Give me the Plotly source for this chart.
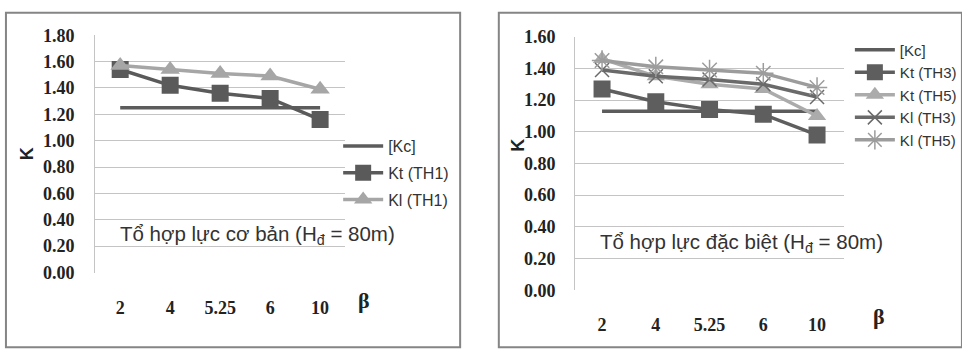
import plotly.graph_objects as go

W, H = 962, 360
def px(x): return x / W
def py(y): return 1 - y / H

categories = ["2", "4", "5.25", "6", "10"]

# Left panel: basic load combination
kc_left = [1.25, 1.25, 1.25, 1.25, 1.25]
kt_th1 = [1.54, 1.42, 1.36, 1.32, 1.16]
kl_th1 = [1.57, 1.54, 1.51, 1.49, 1.39]

# Right panel: special load combination
kc_right = [1.13, 1.13, 1.13, 1.13, 1.13]
kt_th3 = [1.27, 1.19, 1.14, 1.11, 0.98]
kt_th5 = [1.46, 1.35, 1.30, 1.27, 1.10]
kl_th3 = [1.39, 1.35, 1.33, 1.30, 1.22]
kl_th5 = [1.45, 1.41, 1.39, 1.37, 1.28]

left_ticks = [0.0, 0.2, 0.4, 0.6, 0.8, 1.0, 1.2, 1.4, 1.6, 1.8]
right_ticks = [0.0, 0.2, 0.4, 0.6, 0.8, 1.0, 1.2, 1.4, 1.6]

DARK = "#5a5a5a"
LIGHT = "#a6a6a6"
KC = "#5c5c5c"

fig = go.Figure()

def add(y, name, xa, ya, legend, color, symbol=None, msize=15, lw=3.5, mline=None, grp=None):
    mode = "lines" if symbol is None else "lines+markers"
    marker = None
    if symbol is not None:
        marker = dict(symbol=symbol, size=msize, color=color)
        if mline:
            marker["line"] = dict(color=color, width=mline)
    fig.add_trace(go.Scatter(x=categories, y=y, name=name, mode=mode,
                             line=dict(color=color, width=lw), marker=marker,
                             xaxis=xa, yaxis=ya, legend=legend, legendgroup=grp or name))

add(kc_left, "[Kc]", "x", "y", "legend", KC)
add(kt_th1, "Kt (TH1)", "x", "y", "legend", DARK, "square", 17)
add(kl_th1, "Kl (TH1)", "x", "y", "legend", LIGHT, "triangle-up", 17)

add(kc_right, "[Kc]", "x2", "y2", "legend2", KC, grp="r0")
add(kt_th3, "Kt (TH3)", "x2", "y2", "legend2", "#5e5e5e", "square", 17, grp="r1")
add(kt_th5, "Kt (TH5)", "x2", "y2", "legend2", "#ababab", "triangle-up", 16, grp="r2")
add(kl_th3, "Kl (TH3)", "x2", "y2", "legend2", "#6a6a6a", "x-thin", 14, mline=1.5, grp="r3")
add(kl_th5, "Kl (TH5)", "x2", "y2", "legend2", "#9c9c9c", "asterisk", 17, mline=1.5, grp="r4")

tickfont = dict(family="Liberation Serif", size=18, color="#222", weight="bold")
grid = "#c4c4c4"

xcommon = dict(type="category", range=[-0.5, 4.5], showgrid=False, zeroline=False,
               showline=False, ticks="outside", tickcolor="rgba(0,0,0,0)",
               tickfont=tickfont, fixedrange=True)
ycommon = dict(showgrid=True, gridcolor=grid, gridwidth=1.2, zeroline=False,
               showline=True, linecolor=grid, linewidth=1.2, ticks="outside",
               tickcolor="rgba(0,0,0,0)", tickformat=".2f", tickfont=tickfont)

def ann(text, x, y, size, family="Liberation Sans", bold=False, angle=0, color="#333"):
    return dict(text=text, xref="paper", yref="paper", x=px(x), y=py(y), showarrow=False,
                xanchor="center", yanchor="middle", textangle=angle,
                font=dict(family=family, size=size, color=color,
                          weight="bold" if bold else "normal"))

fig.update_layout(
    width=W, height=H,
    margin=dict(l=0, r=0, t=0, b=0),
    paper_bgcolor="white", plot_bgcolor="white",
    showlegend=True,
    xaxis=dict(xcommon, domain=[px(96), px(348)], anchor="y", ticklen=19),
    yaxis=dict(ycommon, domain=[py(278), py(26.7)], range=[0, 1.8], anchor="x",
               tickvals=left_ticks, ticklen=16),
    xaxis2=dict(xcommon, domain=[px(580), px(851)], anchor="y2", ticklen=18),
    yaxis2=dict(ycommon, domain=[py(296.7), py(28.3)], range=[0, 1.6], anchor="x2",
                tickvals=right_ticks, ticklen=15),
    legend=dict(x=px(341), y=py(126), xanchor="left", yanchor="top",
                font=dict(family="Liberation Sans", size=16, color="#333"),
                bgcolor="rgba(0,0,0,0)", tracegroupgap=3, itemwidth=40),
    legend2=dict(x=px(857), y=py(25), xanchor="left", yanchor="top",
                 font=dict(family="Liberation Sans", size=15, color="#333"),
                 bgcolor="rgba(0,0,0,0)", tracegroupgap=0, itemwidth=40),
    shapes=[
        dict(type="rect", xref="paper", yref="paper", x0=px(6), x1=px(464), y0=py(357), y1=py(3),
             line=dict(color="#858585", width=2), layer="below"),
        dict(type="rect", xref="paper", yref="paper", x0=px(503), x1=px(970), y0=py(357), y1=py(3),
             line=dict(color="#858585", width=2), layer="below"),
    ],
    annotations=[
        ann("Tổ hợp lực cơ bản (H<sub>đ</sub> = 80m)", 260, 238, 20.5),
        ann("Tổ hợp lực đặc biệt (H<sub>đ</sub> = 80m)", 748, 247, 20.5),
        ann("K", 27, 152, 18, bold=True, angle=-90, color="#222"),
        ann("K", 522, 143, 18, bold=True, angle=-90, color="#222"),
        ann("β", 367, 308, 22, family="Liberation Serif", bold=True, color="#222"),
        ann("β", 886, 325, 22, family="Liberation Serif", bold=True, color="#222"),
    ],
)

fig.write_html("out.html")
